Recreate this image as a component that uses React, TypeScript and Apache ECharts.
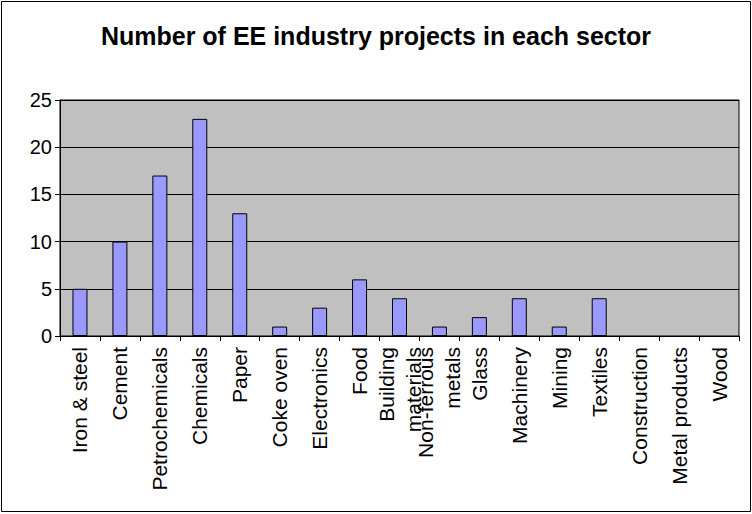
import React, { useEffect, useRef } from "react";
import * as echarts from "echarts";

const categories = [
  "Iron & steel",
  "Cement",
  "Petrochemicals",
  "Chemicals",
  "Paper",
  "Coke oven",
  "Electronics",
  "Food",
  "Building\nmaterials",
  "Non-ferrous\nmetals",
  "Glass",
  "Machinery",
  "Mining",
  "Textiles",
  "Construction",
  "Metal products",
  "Wood",
];
const projectCounts = [5, 10, 17, 23, 13, 1, 3, 6, 4, 1, 2, 4, 1, 4, 0, 0, 0];
const yTicks = { min: 0, max: 25, interval: 5 };
const titleText = "Number of EE industry projects in each sector";

export default function App() {
  const ref = useRef<HTMLDivElement>(null);
  useEffect(() => {
    if (!ref.current) return;
    const chart = echarts.init(ref.current, null, { renderer: "svg" });
    const font = "'Liberation Sans', Arial, sans-serif";
    chart.setOption({
      animation: false,
      backgroundColor: "#ffffff",
      title: {
        text: titleText,
        left: "center",
        top: 18,
        textStyle: { fontFamily: font, fontSize: 25, fontWeight: "bold", color: "#000" },
      },
      graphic: [
        {
          type: "rect",
          shape: { x: 1.5, y: 1.5, width: 749, height: 510 },
          style: { fill: "none", stroke: "#000", lineWidth: 1 },
          silent: true,
        },
      ],
      grid: {
        left: 60,
        right: 13,
        top: 100,
        bottom: 178,
        show: true,
        backgroundColor: "#c0c0c0",
        borderColor: "#000",
        borderWidth: 1,
      },
      xAxis: {
        type: "category",
        data: categories,
        axisLine: { lineStyle: { color: "#000", width: 1 } },
        axisTick: { show: true, length: 5, lineStyle: { color: "#000" } },
        axisLabel: {
          rotate: 90,
          interval: 0,
          margin: 11,
          fontFamily: font,
          fontSize: 21,
          color: "#000",
          lineHeight: 27,
        },
      },
      yAxis: {
        type: "value",
        min: yTicks.min,
        max: yTicks.max,
        interval: yTicks.interval,
        axisLine: { show: true, lineStyle: { color: "#000", width: 1 } },
        axisTick: { show: true, length: 5, lineStyle: { color: "#000" } },
        splitLine: { show: true, lineStyle: { color: "#000", width: 1 } },
        axisLabel: { fontFamily: font, fontSize: 20, color: "#000", margin: 8 },
      },
      series: [
        {
          type: "bar",
          data: projectCounts.map((v) =>
            v === 0 ? { value: v, itemStyle: { borderWidth: 0, opacity: 0 } } : v
          ),
          barWidth: 15,
          itemStyle: { color: "#9999ff", borderColor: "#000", borderWidth: 1 },
        },
      ],
    });
    return () => chart.dispose();
  }, []);
  return (
    <div
      ref={ref}
      style={{ position: "absolute", left: 0, top: 0, width: 752, height: 514 }}
    />
  );
}
